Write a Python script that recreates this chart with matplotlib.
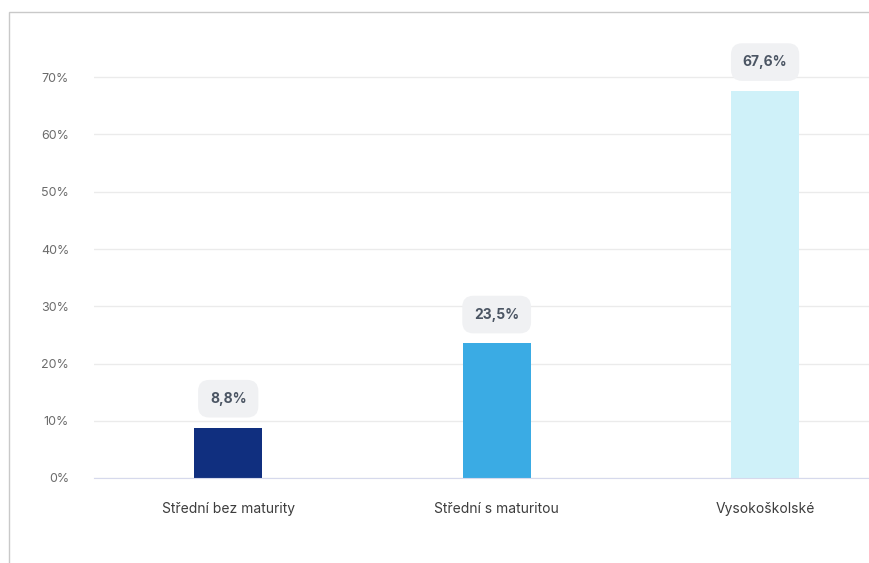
import matplotlib.pyplot as plt
from matplotlib.patches import Rectangle

plt.rcParams['font.family'] = ['Inter', 'DejaVu Sans']

# data
kategorie = ["Střední bez maturity", "Střední s maturitou", "Vysokoškolské"]
hodnoty = [8.8, 23.5, 67.6]
popisky = ["8,8%", "23,5%", "67,6%"]
barvy = ["#102f7f", "#3aabe4", "#cff1f9"]
yticks = [0, 10, 20, 30, 40, 50, 60, 70]

W, H = 869, 563
fig = plt.figure(figsize=(W / 100, H / 100), dpi=100)
ax = fig.add_axes([94 / W, (H - 478) / H, 1 - 94 / W, (478 - 20) / H])

# vnejsi ramecek (viditelna leva a horni hrana)
fig.patches.append(Rectangle((9 / W, -0.1), 1.2, (H - 12) / H + 0.1, transform=fig.transFigure,
                             fill=False, edgecolor="#c9c9c9", linewidth=1))

x = range(len(kategorie))
ax.bar(x, hodnoty, width=0.253, color=barvy, zorder=3)

# popisky hodnot v zaoblenych boxech
for i, (v, t) in enumerate(zip(hodnoty, popisky)):
    ax.text(i, v + 5.05, t, ha="center", va="center", fontsize=10, fontweight="bold",
            color="#4b5563", zorder=4,
            bbox=dict(boxstyle="round,pad=0.85,rounding_size=0.8", fc="#f0f1f3", ec="none"))

ax.set_xlim(-0.5, 2.387)
ax.set_ylim(0, 80)
ax.set_yticks(yticks)
ax.set_yticklabels([f"{t}%" for t in yticks])
ax.set_xticks(list(x))
ax.set_xticklabels(kategorie)

ax.grid(axis="y", color="#ebebeb", linewidth=1, zorder=0)
ax.tick_params(axis="y", length=0, pad=18, labelsize=9, labelcolor="#6b6b6b")
ax.tick_params(axis="x", length=0, pad=17, labelsize=10, labelcolor="#3d3d3d")
for s in ["top", "right", "left"]:
    ax.spines[s].set_visible(False)
ax.spines["bottom"].set_color("#d6d9ec")
ax.spines["bottom"].set_zorder(5)

fig.savefig("out.png", dpi=100)
